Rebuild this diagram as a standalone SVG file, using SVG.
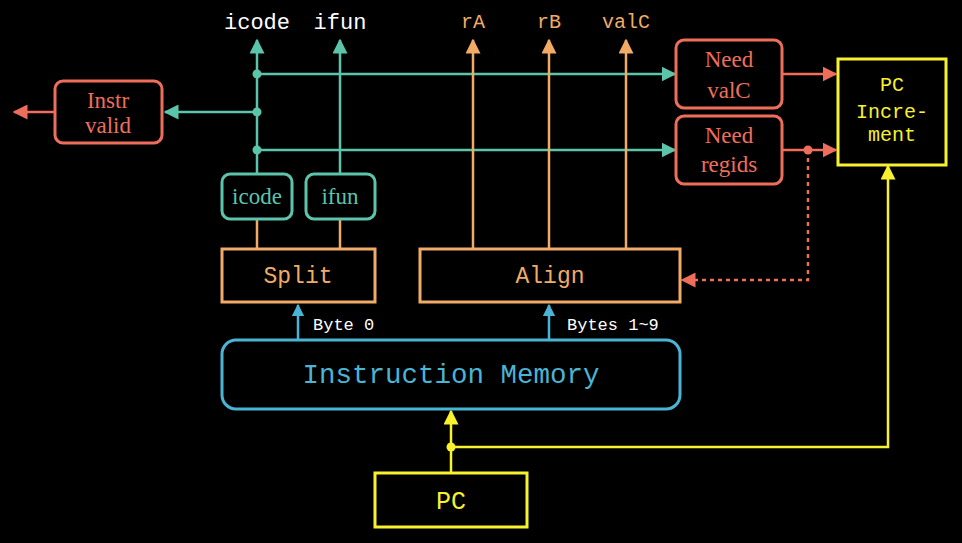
<svg xmlns="http://www.w3.org/2000/svg" width="962" height="543" viewBox="0 0 962 543">
<style>
.mono{font-family:"Liberation Mono","DejaVu Sans Mono",monospace}
.serif{font-family:"Liberation Serif","DejaVu Serif",serif}
.teal{stroke:#5cc4ab}
.coral{stroke:#ee6e5b}
.orange{stroke:#f2ab67}
.blue{stroke:#4ab4d4}
.yellow{stroke:#f7f12e}
.box{fill:#000;stroke-width:3}
.line{fill:none;stroke-width:2.5}
</style>
<defs>
<marker id="aT" viewBox="0 0 10 10" refX="9" refY="5" markerWidth="6" markerHeight="6" orient="auto"><path d="M0,0L10,5L0,10z" fill="#5cc4ab"/></marker>
<marker id="aC" viewBox="0 0 10 10" refX="9" refY="5" markerWidth="6" markerHeight="6" orient="auto"><path d="M0,0L10,5L0,10z" fill="#ee6e5b"/></marker>
<marker id="aO" viewBox="0 0 10 10" refX="9" refY="5" markerWidth="6" markerHeight="6" orient="auto"><path d="M0,0L10,5L0,10z" fill="#f2ab67"/></marker>
<marker id="aY" viewBox="0 0 10 10" refX="9" refY="5" markerWidth="6" markerHeight="6" orient="auto"><path d="M0,0L10,5L0,10z" fill="#f7f12e"/></marker>
<marker id="aB" viewBox="0 0 10 10" refX="9" refY="5" markerWidth="5" markerHeight="5" orient="auto"><path d="M0,0L10,5L0,10z" fill="#4ab4d4"/></marker>
</defs>
<rect width="962" height="543" fill="#000"/>

<g id="connectors">
  <path class="line teal" d="M257,174V40" marker-end="url(#aT)"/>
  <path class="line teal" d="M340,174V40" marker-end="url(#aT)"/>
  <path class="line teal" d="M257,74H675" marker-end="url(#aT)"/>
  <path class="line teal" d="M257,112H165" marker-end="url(#aT)"/>
  <path class="line teal" d="M257,150H675" marker-end="url(#aT)"/>
  <circle cx="257" cy="74" r="4.5" fill="#5cc4ab"/>
  <circle cx="257" cy="112" r="4.5" fill="#5cc4ab"/>
  <circle cx="257" cy="150" r="4.5" fill="#5cc4ab"/>
  <path class="line coral" d="M55,112H14" marker-end="url(#aC)"/>
  <path class="line coral" d="M782,74H836" marker-end="url(#aC)"/>
  <path class="line coral" d="M782,150H836" marker-end="url(#aC)"/>
  <circle cx="808" cy="150" r="4.5" fill="#ee6e5b"/>
  <path class="line coral" d="M808,150V280H682" stroke-dasharray="4,4" marker-end="url(#aC)"/>
  <path class="line orange" d="M257,219V249"/>
  <path class="line orange" d="M340,219V249"/>
  <path class="line orange" d="M473,249V40" marker-end="url(#aO)"/>
  <path class="line orange" d="M549,249V40" marker-end="url(#aO)"/>
  <path class="line orange" d="M626,249V40" marker-end="url(#aO)"/>
  <path class="line blue" d="M298,340V305" stroke-width="2" marker-end="url(#aB)"/>
  <path class="line blue" d="M549,340V305" stroke-width="2" marker-end="url(#aB)"/>
  <path class="line yellow" d="M451,473V411" marker-end="url(#aY)"/>
  <path class="line yellow" d="M451,447H888V166" marker-end="url(#aY)"/>
  <circle cx="451" cy="447" r="4.5" fill="#f7f12e"/>
</g>

<g id="labels-top" class="mono" text-anchor="middle">
  <text x="257" y="29" fill="#fff" font-size="22">icode</text>
  <text x="340" y="29" fill="#fff" font-size="22">ifun</text>
  <text x="473" y="28" fill="#f2ab67" font-size="20">rA</text>
  <text x="549" y="28" fill="#f2ab67" font-size="20">rB</text>
  <text x="626" y="28" fill="#f2ab67" font-size="20">valC</text>
</g>

<g id="instr-valid">
  <rect class="box coral" x="55" y="81" width="107" height="62" rx="8"/>
  <text class="serif" font-size="23" fill="#ee6e5b" text-anchor="middle"><tspan x="108" y="108">Instr</tspan><tspan x="108" y="133">valid</tspan></text>
</g>
<g id="need-valc">
  <rect class="box coral" x="676" y="40" width="106" height="68" rx="8"/>
  <text class="serif" font-size="23" fill="#ee6e5b" text-anchor="middle"><tspan x="729" y="67">Need</tspan><tspan x="729" y="98">valC</tspan></text>
</g>
<g id="need-regids">
  <rect class="box coral" x="676" y="116" width="106" height="68" rx="8"/>
  <text class="serif" font-size="23" fill="#ee6e5b" text-anchor="middle"><tspan x="729" y="143">Need</tspan><tspan x="729" y="172">regids</tspan></text>
</g>
<g id="pc-increment">
  <rect class="box yellow" x="838" y="59" width="108" height="106"/>
  <text class="mono" font-size="20" fill="#f7f12e" text-anchor="middle"><tspan x="892" y="91">PC</tspan><tspan x="892" y="118">Incre-</tspan><tspan x="892" y="141">ment</tspan></text>
</g>
<g id="icode">
  <rect class="box teal" x="222" y="174" width="70" height="45" rx="8"/>
  <text class="serif" x="257" y="204" font-size="23" fill="#5cc4ab" text-anchor="middle">icode</text>
</g>
<g id="ifun">
  <rect class="box teal" x="306" y="174" width="69" height="45" rx="8"/>
  <text class="serif" x="340" y="204" font-size="23" fill="#5cc4ab" text-anchor="middle">ifun</text>
</g>
<g id="split">
  <rect class="box orange" x="222" y="249" width="153" height="53"/>
  <text class="mono" x="298" y="283" font-size="23" fill="#f2ab67" text-anchor="middle">Split</text>
</g>
<g id="align">
  <rect class="box orange" x="420" y="249" width="260" height="53"/>
  <text class="mono" x="550" y="283" font-size="23" fill="#f2ab67" text-anchor="middle">Align</text>
</g>
<g id="byte-labels" class="mono" font-size="17" fill="#fff">
  <text x="313" y="330">Byte 0</text>
  <text x="567" y="330">Bytes 1~9</text>
</g>
<g id="instruction-memory">
  <rect class="box blue" x="222" y="340" width="458" height="69" rx="14"/>
  <text class="mono" x="451" y="383" font-size="27.5" fill="#4ab4d4" text-anchor="middle">Instruction Memory</text>
</g>
<g id="pc">
  <rect class="box yellow" x="375" y="473" width="152" height="54"/>
  <text class="mono" x="451" y="509" font-size="25" fill="#f7f12e" text-anchor="middle">PC</text>
</g>
</svg>
